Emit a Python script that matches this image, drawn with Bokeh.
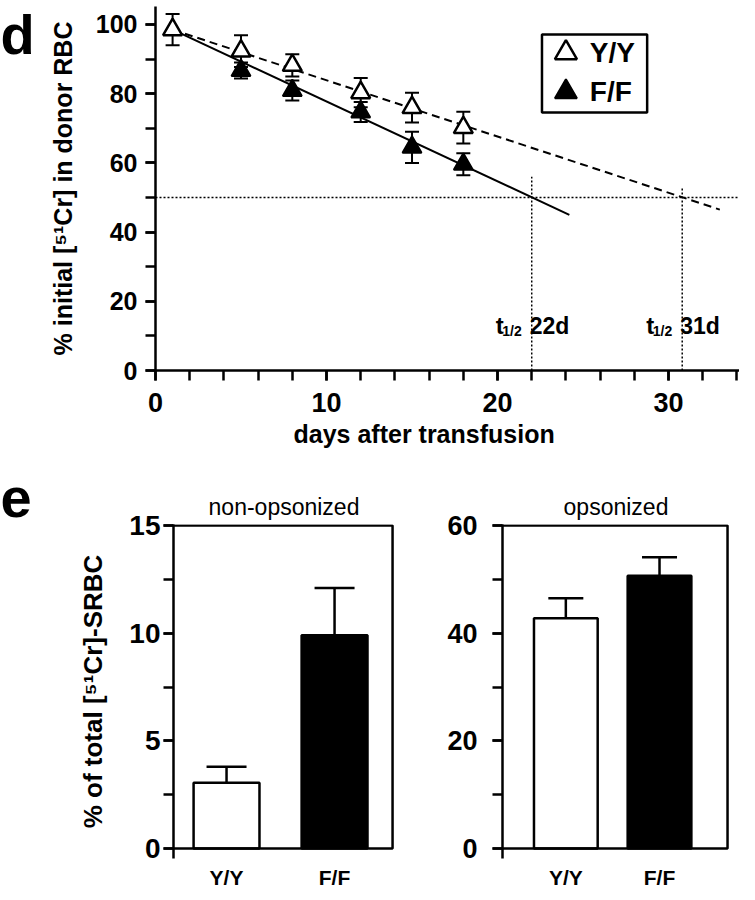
from bokeh.plotting import figure
from bokeh.layouts import column, row
from bokeh.models import (Range1d, SingleIntervalTicker, FixedTicker, Whisker, TeeHead,
                          ColumnDataSource, Span, Title, Label)
from bokeh.embed import file_html
from bokeh.resources import INLINE
from bokeh.core.properties import value

FONT = "Liberation Sans"

# ---------------- data: panel d ----------------
yy_days = [1, 5, 8, 12, 15, 18]
yy_mean = [98.5, 92.3, 88.2, 80.3, 76.0, 70.2]
yy_sem = [4.5, 4.6, 3.2, 4.2, 4.3, 4.6]
ff_days = [5, 8, 12, 15, 18]
ff_mean = [86.7, 80.9, 74.7, 64.5, 59.6]
ff_sem = [2.3, 2.9, 2.9, 4.5, 3.2]
fit_x_yy = [1, 33]
fit_y_yy = [98.5, 46.5]
fit_x_ff = [1, 24.2]
fit_y_ff = [98.5, 45.0]
half_level = 50
half_life = [22, 30.8]
half_life_top = [56, 53]
half_life_text = ["22d", "31d"]
groups = ["Y/Y", "F/F"]

# ---------------- data: panel e ----------------
nonops_mean = [3.05, 9.9]
nonops_sem = [0.75, 2.2]
ops_mean = [42.8, 50.7]
ops_sem = [3.7, 3.4]
bar_colors = ["white", "black"]


def style_axis(ax, size, standoff):
    ax.axis_line_width = 2.5
    ax.axis_line_color = "black"
    ax.major_tick_line_width = 2.5
    ax.minor_tick_line_width = 2.5
    ax.major_tick_line_color = "black"
    ax.minor_tick_line_color = "black"
    ax.major_tick_out = 10
    ax.major_tick_in = 0
    ax.minor_tick_out = 10
    ax.minor_tick_in = 0
    ax.major_label_text_font = FONT
    ax.major_label_text_font_style = "bold"
    ax.major_label_text_font_size = size
    ax.major_label_text_color = "black"
    ax.major_label_standoff = standoff


def axis_title(ax, text, size, standoff):
    ax.axis_label = text
    ax.axis_label_text_font = FONT
    ax.axis_label_text_font_style = "bold"
    ax.axis_label_text_font_size = size
    ax.axis_label_text_color = "black"
    ax.axis_label_standoff = standoff


def panel_letter(p, letter, baseline):
    p.add_layout(Label(x=0, y=baseline, x_units="canvas", y_units="canvas", text=letter,
                       text_align="left", text_baseline="alphabetic", text_font=FONT,
                       text_font_style="bold", text_font_size="56px",
                       text_color="black"), "left")


# =============== panel d ===============
D_H = 460
pd_ = figure(frame_width=584, frame_height=364, min_border_left=155, min_border_right=0,
             min_border_top=6, min_border_bottom=D_H - 370,
             x_range=Range1d(0, 34.15), y_range=Range1d(0, 105.2),
             output_backend="svg", toolbar_location=None)
pd_.outline_line_color = None
pd_.xgrid.visible = False
pd_.ygrid.visible = False

xa = pd_.xaxis[0]
xa.ticker = SingleIntervalTicker(interval=10, num_minor_ticks=5)
style_axis(xa, "27px", 12)
ya = pd_.yaxis[0]
ya.ticker = SingleIntervalTicker(interval=20, num_minor_ticks=2)
style_axis(ya, "25px", 8)
axis_title(ya, "% initial [\u2075\u00b9Cr] in donor RBC", "25px", 16)

pd_.add_layout(Title(text="days after transfusion", align="left", offset=138,
                     text_font=FONT, text_font_style="bold", text_font_size="25px",
                     text_color="black", standoff=6), "below")
panel_letter(pd_, "d", 34)

pd_.add_layout(Span(location=half_level, dimension="width", line_color="black",
                    line_width=1.5, line_dash="2 2"))
pd_.segment(x0=half_life, y0=[0, 0], x1=half_life, y1=half_life_top,
            line_color="black", line_width=1.5, line_dash="2 2")

yy_src = ColumnDataSource(dict(x=yy_days, y=yy_mean,
                               lo=[m - s for m, s in zip(yy_mean, yy_sem)],
                               hi=[m + s for m, s in zip(yy_mean, yy_sem)]))
ff_src = ColumnDataSource(dict(x=ff_days, y=ff_mean,
                               lo=[m - s for m, s in zip(ff_mean, ff_sem)],
                               hi=[m + s for m, s in zip(ff_mean, ff_sem)]))
for src in (yy_src, ff_src):
    pd_.add_layout(Whisker(base="x", lower="lo", upper="hi", source=src,
                           line_width=2, line_color="black",
                           upper_head=TeeHead(size=14, line_width=2),
                           lower_head=TeeHead(size=14, line_width=2)))

pd_.line(fit_x_yy, fit_y_yy, line_color="black", line_width=2, line_dash="8 5")
pd_.line(fit_x_ff, fit_y_ff, line_color="black", line_width=2)

pd_.scatter("x", "y", source=yy_src, marker="triangle", size=19,
            fill_color="white", line_color="black", line_width=2.5)
pd_.scatter("x", "y", source=ff_src, marker="triangle", size=19,
            fill_color="black", line_color="black", line_width=2)

# half-life labels
t_y = [13, 13]
pd_.text(x=half_life, y=t_y, text=half_life_text, x_offset=-2,
         text_align="left", text_baseline="alphabetic",
         text_font=value(FONT), text_font_style="bold", text_font_size="23px")
pd_.text(x=half_life, y=t_y, text=["1/2", "1/2"], x_offset=-10, y_offset=5,
         text_align="right", text_baseline="alphabetic",
         text_font=value(FONT), text_font_style="bold", text_font_size="14px")
pd_.text(x=half_life, y=t_y, text=["t", "t"], x_offset=-28,
         text_align="right", text_baseline="alphabetic",
         text_font=value(FONT), text_font_style="bold", text_font_size="24px")

# legend (drawn manually for marker size)
pd_.quad(left=[22.6], right=[28.75], bottom=[74.6], top=[97.1],
         fill_color="white", line_color="black", line_width=2.5)
leg_y = [91.8, 80.5]
pd_.scatter([24.0], [leg_y[0]], marker="triangle", size=22,
            fill_color="white", line_color="black", line_width=2.5)
pd_.scatter([24.0], [leg_y[1]], marker="triangle", size=22,
            fill_color="black", line_color="black", line_width=2)
pd_.text(x=[25.4, 25.4], y=leg_y, text=groups, text_align="left", text_baseline="middle",
         text_font=value(FONT), text_font_style="bold", text_font_size="28px")


# =============== panel e ===============
E_H = 884 - D_H
E_TOP = 64
E_FH = 334


def bar_panel(title, means, sems, xr, box_right, yr, ytop, interval, fw, bl, br,
              bar_w, tee, ylabel_std, ysize):
    p = figure(frame_width=fw, frame_height=E_FH, min_border_left=bl, min_border_right=br,
               min_border_top=E_TOP, min_border_bottom=E_H - E_TOP - E_FH,
               x_range=Range1d(*xr), y_range=Range1d(*yr),
               output_backend="svg", toolbar_location=None)
    p.outline_line_color = None
    p.xgrid.visible = False
    p.ygrid.visible = False
    p.title.text = title
    p.title.align = "center"
    p.title.text_font = FONT
    p.title.text_font_style = "normal"
    p.title.text_font_size = "23px"
    p.title.text_color = "black"
    p.title.standoff = 10

    xs = list(range(len(groups)))
    src = ColumnDataSource(dict(x=xs, top=means, color=bar_colors,
                                hi=[m + s for m, s in zip(means, sems)]))
    p.add_layout(Whisker(base="x", lower="top", upper="hi", source=src,
                         line_width=2.5, line_color="black", lower_head=None,
                         upper_head=TeeHead(size=tee, line_width=2.5)))
    p.vbar(x="x", top="top", bottom=0, width=bar_w, source=src,
           fill_color="color", line_color="black", line_width=2.5)
    # box (top, right, bottom at zero)
    p.multi_line(xs=[[xr[0], box_right, box_right, xr[0]]], ys=[[ytop, ytop, 0, 0]],
                 line_color="black", line_width=2.5)

    xa = p.xaxis[0]
    xa.ticker = FixedTicker(ticks=xs)
    xa.major_label_overrides = {i: g for i, g in enumerate(groups)}
    xa.axis_line_color = None
    xa.major_tick_line_color = None
    xa.minor_tick_line_color = None
    xa.major_label_text_font = FONT
    xa.major_label_text_font_style = "bold"
    xa.major_label_text_font_size = "21px"
    xa.major_label_text_color = "black"
    xa.major_label_standoff = 1

    ya = p.yaxis[0]
    ya.ticker = SingleIntervalTicker(interval=interval, num_minor_ticks=2)
    style_axis(ya, ysize, ylabel_std)
    return p


pe1 = bar_panel("non-opsonized", nonops_mean, nonops_sem, (-0.491, 1.555), 1.537,
                (-0.464, 15.05), 15, 5, 221, 173, 36, 0.61, 40, 3, "28px")
axis_title(pe1.yaxis[0], "% of total [\u2075\u00b9Cr]-SRBC", "26px", 18)
panel_letter(pe1, "e", 37)

pe2 = bar_panel("opsonized", ops_mean, ops_sem, (-0.676, 1.747), 1.726,
                (-1.85, 60.2), 60, 20, 227, 72, 10, 0.68, 35, 15, "27px")

layout = column(pd_, row(pe1, pe2))
open("out.html", "w").write(file_html(layout, INLINE))
